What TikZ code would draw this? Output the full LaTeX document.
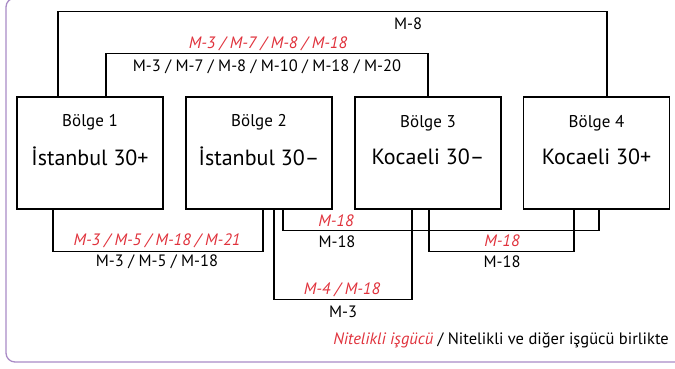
\documentclass[tikz,border=0pt]{standalone}
\usepackage{fontspec}
\setmainfont{PT Sans}
\usetikzlibrary{positioning}

\definecolor{nitelik}{HTML}{E0323C}
\definecolor{cerceve}{HTML}{A98BC6}

\begin{document}
\begin{tikzpicture}[
  x=1pt, y=1pt,
  bolge/.style={draw, line width=1.2pt, minimum width=146pt, minimum height=112pt,
                align=center, text depth=26pt, inner sep=0pt},
  hat/.style={line width=1.2pt},
  kirmizi/.style={text=nitelik, font=\fontsize{16.5}{18}\selectfont\itshape, inner sep=1pt},
  siyah/.style={font=\fontsize{16.5}{18}\selectfont, inner sep=1pt}
  ]
\useasboundingbox (0,0) rectangle (675,368);
\begin{scope}
  \clip (0,0) rectangle (675,368);
  \draw[cerceve, line width=1.3pt, rounded corners=9pt] (6,6) rectangle (690,370);
\end{scope}

% bolgeler
\newcommand{\bolgetext}[2]{{\fontsize{17}{20}\selectfont #1}\\[16pt]{\fontsize{22}{24}\selectfont #2}}
\node[bolge] (ist1) at (90,215)    {\bolgetext{Bölge 1}{İstanbul 30+}};
\node[bolge] (ist2) at (259,215)   {\bolgetext{Bölge 2}{İstanbul 30–}};
\node[bolge] (koc3) at (428,215)   {\bolgetext{Bölge 3}{Kocaeli 30–}};
\node[bolge] (koc4) at (596.5,215) {\bolgetext{Bölge 4}{Kocaeli 30+}};

% ustteki baglantilar
\draw[hat] ([xshift=-32pt]ist1.north) -- ++(0,85) -| ([xshift=10.5pt]koc4.north);
\draw[hat] ([xshift=16pt]ist1.north) -- ++(0,43) -| (koc3.north);
\node[siyah] (m8) at (408,344) {M-8};
\node[kirmizi] (u1k) at (268,324) {M-3 / M-7 / M-8 / M-18};
\node[siyah] (u1s) at (267,301) {M-3 / M-7 / M-8 / M-10 / M-18 / M-20};

% alttaki baglantilar
\draw[hat] ([xshift=-37pt]ist1.south) -- ++(0,-42) -| ([xshift=4pt]ist2.south);
\draw[hat] ([xshift=24pt]ist2.south) -- ++(0,-21) -| ([xshift=2.5pt]koc4.south);
\draw[hat] ([xshift=15pt]ist2.south) -- ++(0,-90) -| ([xshift=-16pt]koc3.south);
\draw[hat] ([xshift=1pt]koc3.south) -- ++(0,-42) -| ([xshift=-22.5pt]koc4.south);

\node[kirmizi] (a1k) at (157,127) {M-3 / M-5 / M-18 / M-21};
\node[siyah]   (a1s) at (157,106) {M-3 / M-5 / M-18};
\node[kirmizi] (a2k) at (336,147) {M-18};
\node[siyah]   (a2s) at (337,126) {M-18};
\node[kirmizi] (a3k) at (342,78)  {M-4 / M-18};
\node[siyah]   (a3s) at (343,56)  {M-3};
\node[kirmizi] (a4k) at (502,127) {M-18};
\node[siyah]   (a4s) at (502,106) {M-18};

% aciklama
\node[siyah, anchor=east] (acik) at (670,28)
  {\textcolor{nitelik}{\itshape Nitelikli işgücü} / Nitelikli ve diğer işgücü birlikte};
\end{tikzpicture}
\end{document}
